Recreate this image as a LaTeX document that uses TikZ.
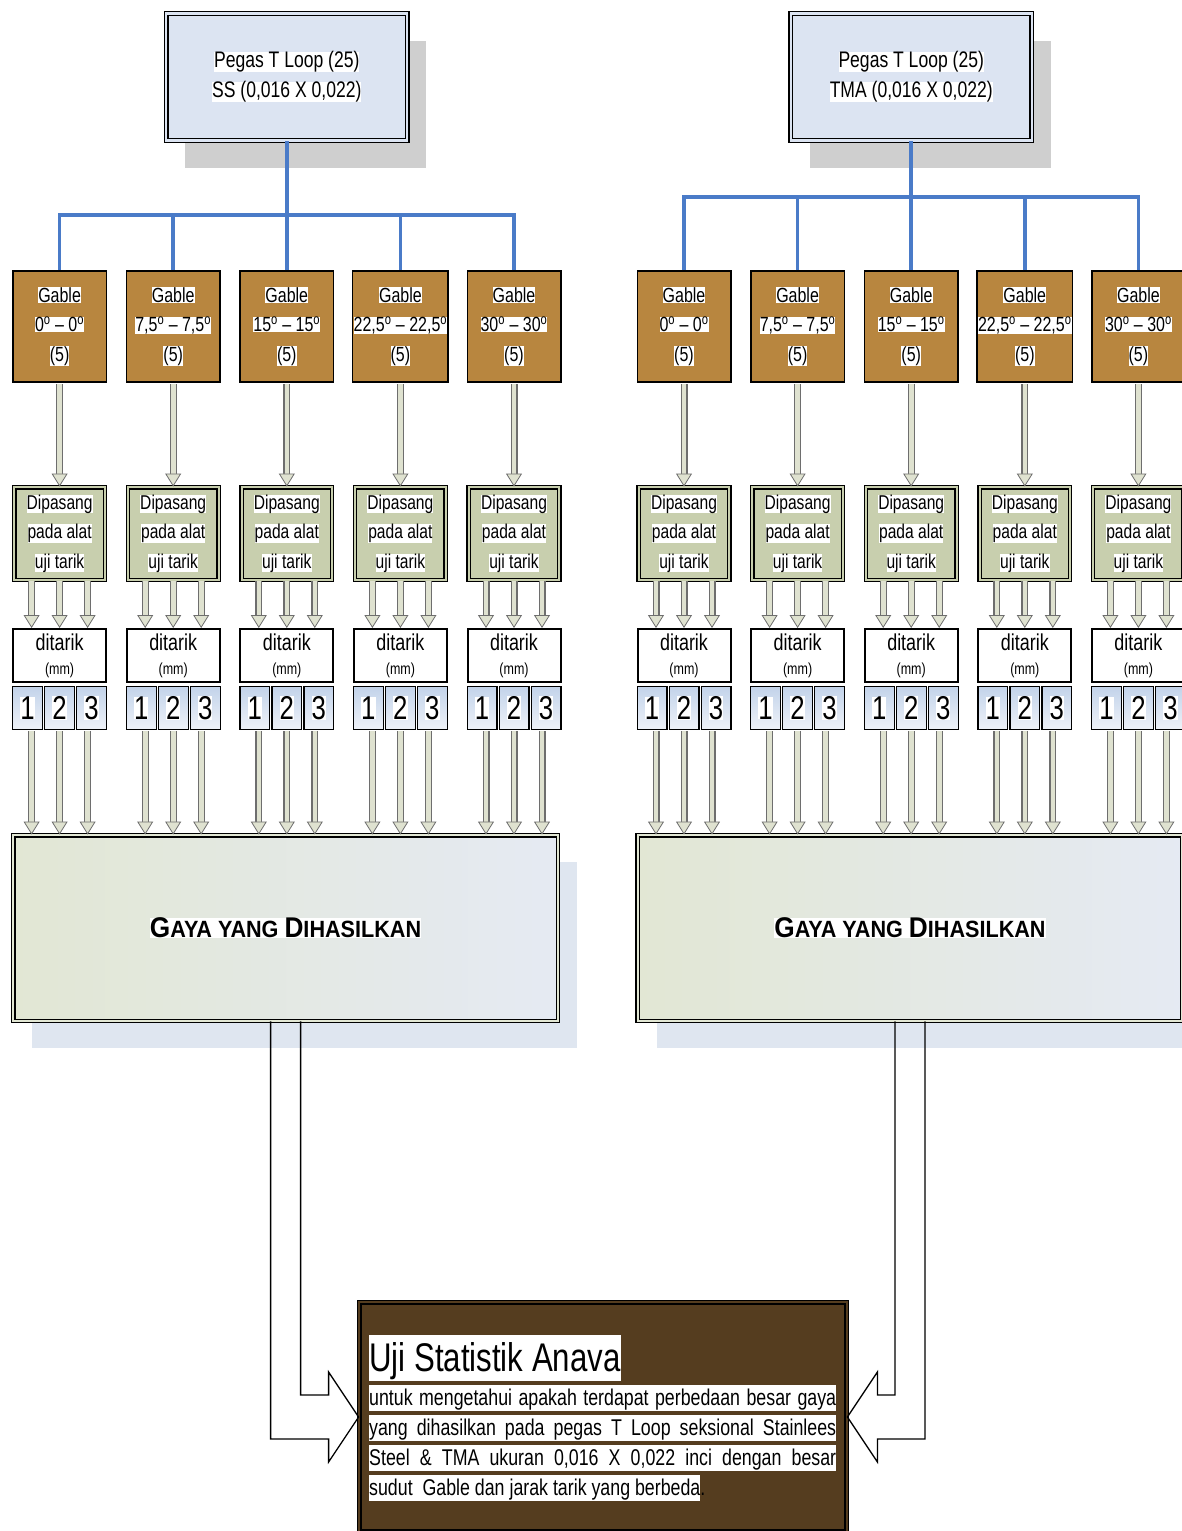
\documentclass[tikz,border=0pt]{standalone}
\usepackage{fontspec}
\setmainfont{Liberation Sans}[FakeStretch=0.78]
\newfontfamily\gayafont{Liberation Sans}[FakeStretch=0.92]
\usetikzlibrary{positioning, arrows.meta, calc, shadows}

\definecolor{specblue}{HTML}{DCE4F2}
\definecolor{specshadow}{HTML}{CFCFCF}
\definecolor{gablebrown}{HTML}{B8863F}
\definecolor{mountgreen}{HTML}{C8CFAE}
\definecolor{shaftfill}{HTML}{DFE2D0}
\definecolor{shaftedge}{HTML}{6E6E6E}
\definecolor{numtop}{HTML}{C3D3EA}
\definecolor{numbot}{HTML}{EEF2F8}
\definecolor{gayaleft}{HTML}{E2E7D4}
\definecolor{gayaright}{HTML}{E5EAF3}
\definecolor{gayashadow}{HTML}{DFE6F0}
\definecolor{anavabrown}{HTML}{553D1F}
\definecolor{treeblue}{HTML}{4A7BC8}

% white highlight behind the text, as in the original
\newcommand{\hl}[1]{{\setlength{\fboxsep}{0pt}\colorbox{white}{#1}}}
\newcommand{\dg}{\textsuperscript{o}}
\newcommand{\fsc}[2]{{\fontsize{28.5}{30}\selectfont #1}{\fontsize{23.5}{30}\selectfont #2}}
\newcommand{\jline}[1]{\hl{\rule[-0.22em]{0pt}{1.12em}\makebox[467pt][s]{#1}}}

\begin{document}
\begin{tikzpicture}[
    x=1pt, y=-1pt,
    specbox/.style={
        rectangle, draw, line width=1.2pt,
        fill=specblue, double=specblue, double distance=2.2pt,
        minimum width=241pt, minimum height=127pt,
        align=center, font=\fontsize{22.5}{30}\selectfont,
        drop shadow={shadow xshift=19pt, shadow yshift=-27pt,
            fill=specshadow, opacity=1}
    },
    gablebox/.style={
        rectangle, draw, line width=1.6pt, fill=gablebrown,
        minimum width=93.4pt, minimum height=111.4pt, inner sep=1pt,
        align=center, font=\fontsize{20.5}{29.5}\selectfont
    },
    mountbox/.style={
        rectangle, draw, line width=1.3pt,
        fill=mountgreen, double=mountgreen, double distance=2pt,
        minimum width=90.6pt, minimum height=92.6pt, inner sep=1pt,
        align=center, font=\fontsize{20}{29.5}\selectfont
    },
    pullbox/.style={
        rectangle, draw, line width=2pt, fill=white,
        minimum width=93pt, minimum height=53pt, inner sep=1pt,
        align=center, font=\fontsize{23}{24}\selectfont
    },
    numbox/.style={
        rectangle, draw, line width=1.2pt,
        top color=numtop, bottom color=numbot,
        minimum width=29.8pt, minimum height=42.8pt, inner sep=0pt,
        font=\fontsize{33}{33}\selectfont
    },
    gayabox/.style={
        rectangle, draw, line width=1.3pt,
        left color=gayaleft, right color=gayaright,
        double=gayaleft, double distance=2pt,
        minimum width=544.6pt, minimum height=185.6pt,
        font=\gayafont\bfseries\fontsize{23.5}{30}\selectfont,
        drop shadow={shadow xshift=19pt, shadow yshift=-27pt,
            fill=gayashadow, opacity=1}
    },
    anavabox/.style={
        rectangle, draw, line width=1.2pt,
        fill=anavabrown, double=anavabrown, double distance=2.4pt,
        minimum width=487.6pt, minimum height=229.6pt
    },
    anavatitle/.style={inner sep=0pt, font=\fontsize{40}{42}\selectfont},
    anavatext/.style={inner sep=0pt, align=left, font=\fontsize{22.8}{30}\selectfont},
    tree/.style={draw=treeblue, line width=3.6pt},
    blockarr/.style={
        draw=shaftfill, line width=0.6pt, shorten <=1pt,
        preaction={draw=shaftedge, line width=7pt, arrows=-, shorten >=11pt},
        preaction={draw=shaftfill, line width=4.6pt, arrows=-, shorten >=10pt, shorten <=1pt},
        -{Triangle[width=16pt, length=13pt, color=shaftedge, fill=shaftfill, line width=0.8pt]}
    },
    bentarr/.style={draw=black, line width=1.3pt}
]
\useasboundingbox (0,0) rectangle (1182,1531);
\clip (0,0) rectangle (1182,1531);

\foreach \side/\xa/\yb/\mat in {l/59.6/215/SS, r/684/197/TMA} {
    \node[specbox] (spec\side) at (\xa+227.2,77) {\hl{Pegas T Loop (25)}\\\hl{\mat{} (0,016 X 0,022)}};
    \coordinate (bar\side) at (\xa+227.2,\yb);
    \draw[tree] (spec\side) -- (bar\side);

    \node[gayabox] (gaya\side) at (\xa+226,928) {\hl{\fsc{G}{AYA YANG} \fsc{D}{IHASILKAN}}};

    \foreach \ang [count=\i] in {0,{7,5},15,{22,5},30} {
        \pgfmathsetmacro\cx{\xa+113.6*(\i-1)}
        \node[gablebox] (g\side\i) at (\cx,326.5) {\hl{Gable}\\\hl{\ang\dg{} -- \ang\dg}\\\hl{(5)}};
        \node[mountbox] (d\side\i) at (\cx,533.5) {\hl{Dipasang}\\\hl{pada alat}\\\hl{uji tarik}};
        \node[pullbox] (t\side\i) at (\cx,655.5) {\hl{ditarik}\\{\fontsize{16}{16}\selectfont (mm)}};
        \foreach \j/\dx in {1/-32,2/0,3/32}
            \node[numbox] (n\side\i\j) at (\cx+\dx,708) {\hl{\j}};

        \draw[tree] (g\side\i) |- (bar\side);
        \draw[blockarr] (g\side\i) -- (d\side\i);
        \foreach \dx in {-28,0,28} {
            \draw[blockarr] ($(d\side\i.south)+(\dx,0)$) -- ($(t\side\i.north)+(\dx,0)$);
            \draw[blockarr] ($(t\side\i.south |- n\side\i1.south)+(\dx,0)$)
                -- ($(t\side\i.south |- gaya\side.north)+(\dx,0)$);
        }
    }
}

\node[anavabox] (anava) at (603,1417) {};
\node[anavatitle, anchor=west] (anavahead) at (369,1358)
    {\hl{\rule[-0.25em]{0pt}{1.15em}Uji Statistik Anava}};
\node[anavatext, anchor=north west] (anavabody) at (369,1385) {%
    \jline{untuk mengetahui apakah terdapat perbedaan besar gaya}\\
    \jline{yang dihasilkan pada pegas T Loop seksional Stainlees}\\
    \jline{Steel \& TMA ukuran 0,016 X 0,022 inci dengan besar}\\
    \hl{\rule[-0.22em]{0pt}{1.12em}sudut~ Gable dan jarak tarik yang berbeda}.};

% bent arrows into the Anava box
\draw[bentarr] ([xshift=-15pt]gayal.south) |- ($(anava.west)+(-30,22)$) -- ++(0,23)
    -- (anava.west) -- ++(-30,-45) -- ++(0,23) -| ([xshift=15pt]gayal.south);
\draw[bentarr] ([xshift=15pt]gayar.south) |- ($(anava.east)+(30,22)$) -- ++(0,23)
    -- (anava.east) -- ++(30,-45) -- ++(0,23) -| ([xshift=-15pt]gayar.south);

\end{tikzpicture}
\end{document}
